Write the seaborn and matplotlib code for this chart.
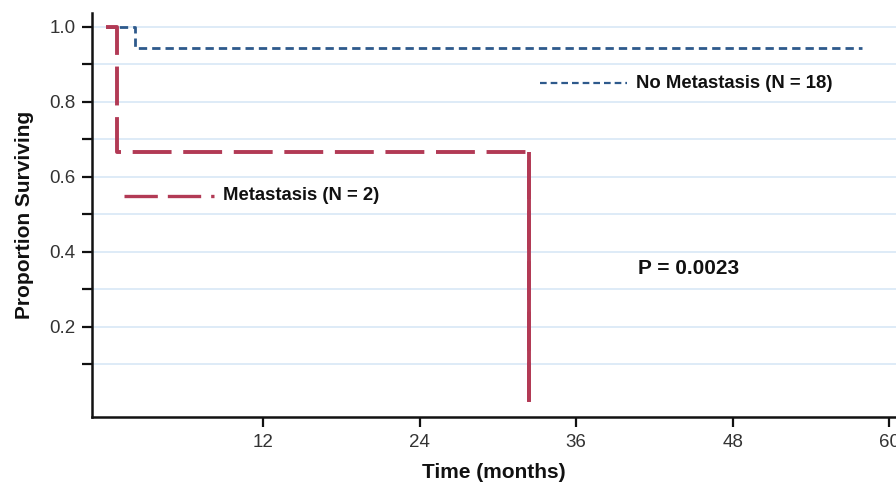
import matplotlib
matplotlib.use("Agg")
import matplotlib.pyplot as plt
import seaborn as sns
import pandas as pd
import numpy as np

# Kaplan-Meier step data
meta_time = [0.0, 0.8, 32.4]
meta_surv = [1.0, 0.667, 0.0]
nometa_time = [0.0, 2.2, 57.9]
nometa_surv = [1.0, 0.944, 0.944]

meta_label = "Metastasis (N = 2)"
nometa_label = "No Metastasis (N = 18)"
p_text = "P = 0.0023"

x_ticks = [12, 24, 36, 48, 60]
y_major = [0.2, 0.4, 0.6, 0.8, 1.0]
y_minor = [0.1, 0.3, 0.5, 0.7, 0.9]

sns.set_theme(style="white")
plt.rcParams['font.family'] = ['Liberation Sans', 'DejaVu Sans']

red = "#B23A55"
blue = "#2E5A8C"
grid_c = "#D8E8F6"

fig = plt.figure(figsize=(8.96, 4.84), dpi=100)
ax = fig.add_axes([92/896, 67/484, 1 - 92/896, (417-13)/484])

ax.set_xlim(-1.1, 60.5)
ax.set_ylim(-0.04, 1.037)

for yv in sorted(y_major + y_minor):
    ax.axhline(yv, color=grid_c, lw=1.2, zorder=0)

df_m = pd.DataFrame({"t": meta_time, "s": meta_surv})
df_n = pd.DataFrame({"t": nometa_time, "s": nometa_surv})

sns.lineplot(data=df_n, x="t", y="s", ax=ax, drawstyle="steps-post", color=blue,
             lw=2.0, dashes=False, sort=False, estimator=None, zorder=3,
             linestyle=(0, (3, 1.8)))
sns.lineplot(data=df_m, x="t", y="s", ax=ax, drawstyle="steps-post", color=red,
             lw=2.8, dashes=False, sort=False, estimator=None, zorder=4,
             linestyle=(0, (10, 3)))
# final drop drawn as a continuous segment
ax.vlines(meta_time[-1], meta_surv[-1], meta_surv[-2], color=red, lw=2.8, zorder=4)

def px2t(px):
    return (px - 106.5) / 13.04

# in-plot legend entries
ax.plot([px2t(540), px2t(627)], [0.85, 0.85], color=blue,
        lw=1.6, linestyle=(0, (3, 1.8)))
ax.text(px2t(636), 0.85, nometa_label, fontsize=13.3, fontweight="bold",
        va="center", ha="left", color="#111111")
ax.plot([px2t(124), px2t(214)], [0.55, 0.55], color=red,
        lw=2.4, linestyle=(0, (10, 3)))
ax.text(px2t(223), 0.55, meta_label, fontsize=13.3, fontweight="bold",
        va="center", ha="left", color="#111111")
ax.text(px2t(638), 0.357, p_text, fontsize=15, fontweight="bold",
        va="center", ha="left", color="#111111")

ax.set_xticks(x_ticks)
ax.set_xticklabels([str(v) for v in x_ticks])
ax.set_yticks(y_major)
ax.set_yticklabels([f"{v:.1f}" for v in y_major])
ax.set_yticks(y_minor, minor=True)

ax.tick_params(axis="both", which="both", direction="out", length=7, width=1.6,
               color="#111111", labelsize=13.5, labelcolor="#333333", pad=5,
               left=True, bottom=True)
ax.tick_params(axis="y", which="minor", length=7, width=1.6)

for s in ["top", "right"]:
    ax.spines[s].set_visible(False)
for s in ["left", "bottom"]:
    ax.spines[s].set_color("#111111")
    ax.spines[s].set_linewidth(1.8)

ax.set_xlabel("Time (months)", fontsize=15, fontweight="bold", color="#111111", labelpad=9)
ax.set_ylabel("Proportion Surviving", fontsize=15, fontweight="bold", color="#111111", labelpad=11)

fig.savefig("out.png", dpi=100)
